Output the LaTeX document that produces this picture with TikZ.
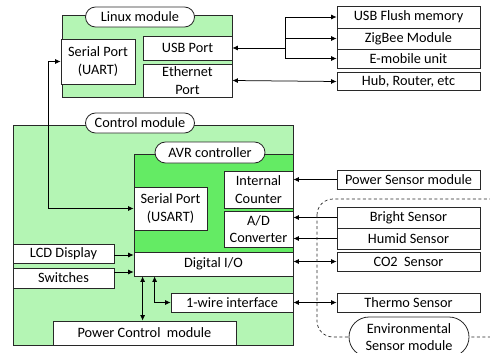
\documentclass[tikz,border=0pt]{standalone}
\usepackage{fontspec}
\setmainfont{Carlito}
\usetikzlibrary{arrows.meta,shapes.misc}

\definecolor{modgreen}{RGB}{180,245,180}
\definecolor{avrgreen}{RGB}{100,235,100}
\definecolor{edge}{RGB}{40,40,40}

\begin{document}
\begin{tikzpicture}[x=1pt,y=-1pt,
  every node/.style={font=\fontsize{14.3}{17.5}\selectfont, inner sep=0pt},
  modbox/.style={draw=edge, line width=0.8pt},
  blk/.style={draw=edge, fill=white, line width=0.8pt, align=center,
              minimum width=#1},
  blk/.default=143pt,
  pill/.style={draw=edge, fill=white, line width=0.8pt, rounded rectangle,
               minimum height=20pt, minimum width=109pt, align=center},
  link/.style={line width=0.75pt, draw=black},
  tip/.style={-{Latex[length=5.5pt,width=5pt]}},
  tips/.style={{Latex[length=5.5pt,width=5pt]}-{Latex[length=5.5pt,width=5pt]}}]

\useasboundingbox (0,0) rectangle (490,353);

% ---------- Linux module ----------
\draw[modbox, fill=modgreen] (62,15) rectangle (232,97);
\node[blk=74pt, minimum height=45pt] (uart) at (98,61.5) {Serial Port\\(UART)};
\node[blk=89pt, minimum height=24pt] (usb) at (187.5,48) {USB Port};
\node[blk=89pt, minimum height=33pt] (eth) at (187.5,80.5) {Ethernet\\Port};
\node[pill] (linuxlbl) at (140,17) {Linux module};

% ---------- external units on the Linux side ----------
\node[blk, minimum height=22pt] (flush) at (408.5,17) {USB Flush memory};
\node[blk, minimum height=21pt] (zig) at (408.5,38.5) {ZigBee Module};
\node[blk, minimum height=19pt] (emob) at (408.5,58.5) {E-mobile unit};
\node[blk, minimum height=18pt] (hub) at (408.5,81.5) {Hub, Router, etc};

% ---------- Control module ----------
\draw[modbox, fill=modgreen] (13,125) rectangle (293,345);
\draw[modbox, fill=avrgreen] (134,154) rectangle (293,252);
\node[pill] (ctrllbl) at (140,123) {Control module};
\node[pill, minimum width=110pt, minimum height=21pt] (avrlbl) at (210,152.5) {AVR controller};

\node[blk=73pt, minimum height=43pt] (usart) at (170.5,208.5) {Serial Port\\(USART)};
\node[blk=69pt, minimum height=37pt] (counter) at (258.5,189.5) {Internal\\Counter};
\node[blk=69pt, minimum height=36pt] (adc) at (258.5,229) {A/D\\Converter};
\node[blk=159pt, minimum height=24pt] (dio) at (213.5,264) {Digital I/O};
\node[blk=101pt, minimum height=19pt] (lcd) at (63.5,253.5) {LCD Display};
\node[blk=101pt, minimum height=20pt] (sw) at (63.5,278) {Switches};
\node[blk=122pt, minimum height=19pt] (onewire) at (232,302.5) {1-wire interface};
\node[blk=183pt, minimum height=24pt] (pcm) at (144.5,333) {Power Control\ \ module};

% ---------- sensors ----------
\node[blk, minimum height=19pt] (psens) at (408.5,179.5) {Power Sensor module};
\node[blk, minimum height=21pt] (bright) at (408.5,217.5) {Bright Sensor};
\node[blk, minimum height=21pt] (humid) at (408.5,238.5) {Humid Sensor};
\node[blk, minimum height=19pt] (co2) at (408.5,261.5) {CO2\ \ Sensor};
\node[blk, minimum height=19pt] (thermo) at (408.5,302.5) {Thermo Sensor};

% ---------- connectors ----------
\coordinate (bus) at (285,48);
\draw[link, tip] (bus) -- (usb.east);
\draw[link, tip] (bus) |- (flush.west);
\draw[link, tip] (bus) |- (emob.west);
\draw[link, tip] (bus |- zig.west) -- (zig.west);
\draw[link, tips] (eth.east) -- (hub.west);

\draw[link, tips] (uart.west) -- ++(-12,0) |- (usart.west);

\draw[link, tip] (psens.west) -- (psens.west -| counter.east);
\draw[link, tip] (bright.west) -- (bright.west -| adc.east);
\draw[link, tip] (humid.west) -- (humid.west -| adc.east);
\draw[link, tips] (co2.west) -- (co2.west -| dio.east);
\draw[link, tips] (thermo.west) -- (onewire.east);

\draw[link, tip] ([yshift=-1.5pt]lcd.east) -- ([yshift=-1.5pt]lcd.east -| dio.west);
\draw[link, tip] ([yshift=6pt]sw.east) -- ([yshift=6pt]sw.east -| dio.west);
\draw[link, tips] ([xshift=9pt]dio.south west) -- ([xshift=9pt]dio.south west |- pcm.north);
\draw[link, tips] ([xshift=21pt]dio.south west) |- (onewire.west);

% ---------- environmental sensor group ----------
\draw[edge, line width=0.7pt, dash pattern=on 3pt off 2.5pt, rounded corners=16pt]
  (317,199) rectangle (505,337);
\node[pill, minimum width=120pt, minimum height=40pt] (envlbl) at (409,337)
  {Environmental\\Sensor module};

\end{tikzpicture}
\end{document}
